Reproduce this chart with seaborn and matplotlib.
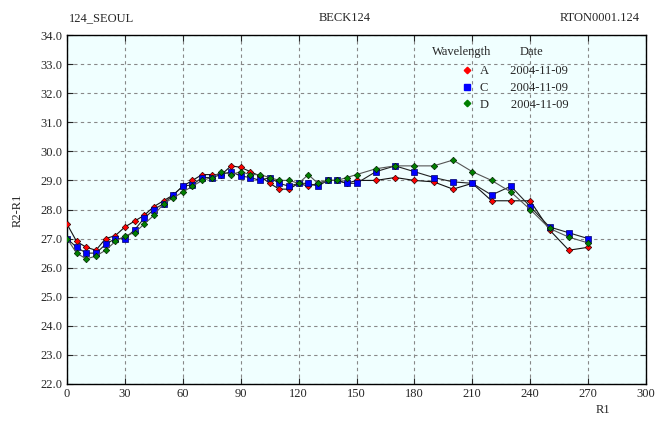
import numpy as np
import pandas as pd
import matplotlib
matplotlib.use("Agg")
import matplotlib.pyplot as plt
import seaborn as sns
from matplotlib.lines import Line2D

r1 = [0, 5, 10, 15, 20, 25, 30, 35, 40, 45, 50, 55, 60, 65, 70, 75, 80, 85, 90, 95,
      100, 105, 110, 115, 120, 125, 130, 135, 140, 145, 150, 160, 170, 180, 190, 200,
      210, 220, 230, 240, 250, 260, 270]

val_a = [27.5, 26.9, 26.7, 26.6, 27.0, 27.1, 27.4, 27.6, 27.8, 28.1, 28.3, 28.5, 28.8,
         29.0, 29.2, 29.2, 29.2, 29.5, 29.45, 29.3, 29.15, 28.9, 28.7, 28.7, 28.9, 28.8,
         28.9, 29.0, 29.0, 28.9, 29.0, 29.0, 29.1, 29.0, 28.95, 28.7, 28.9, 28.3, 28.3,
         28.3, 27.3, 26.6, 26.7]

val_c = [27.0, 26.7, 26.5, 26.5, 26.8, 27.0, 27.0, 27.3, 27.7, 28.0, 28.2, 28.5, 28.8,
         28.85, 29.1, 29.1, 29.2, 29.3, 29.15, 29.1, 29.0, 29.1, 28.9, 28.8, 28.9, 28.9,
         28.8, 29.0, 29.0, 28.9, 28.9, 29.3, 29.5, 29.3, 29.1, 28.95, 28.9, 28.5, 28.8,
         28.1, 27.4, 27.2, 27.0]

val_d = [27.0, 26.5, 26.3, 26.4, 26.6, 26.9, 27.1, 27.2, 27.5, 27.8, 28.2, 28.4, 28.6,
         28.8, 29.0, 29.1, 29.3, 29.2, 29.3, 29.2, 29.2, 29.1, 29.0, 29.0, 28.9, 29.2,
         28.9, 29.0, 29.0, 29.1, 29.2, 29.4, 29.5, 29.5, 29.5, 29.7, 29.3, 29.0, 28.6,
         28.0, 27.35, 27.05, 26.85]

wavelengths = ["A", "C", "D"]
dates = ["2004-11-09", "2004-11-09", "2004-11-09"]
x_ticks = [0, 30, 60, 90, 120, 150, 180, 210, 240, 270, 300]
y_ticks = [22.0, 23.0, 24.0, 25.0, 26.0, 27.0, 28.0, 29.0, 30.0, 31.0, 32.0, 33.0, 34.0]

df = pd.DataFrame({
    "R1": r1 * 3,
    "R2-R1": val_a + val_c + val_d,
    "Wavelength": sum([[w] * len(r1) for w in wavelengths], []),
})

sns.set_style("ticks")
plt.rcParams["font.family"] = ["Liberation Serif", "DejaVu Serif"]
plt.rcParams["font.size"] = 9

fig = plt.figure(figsize=(6.56, 4.26), dpi=100)
ax = fig.add_axes([67 / 656, 42 / 426, 579 / 656, 349 / 426])
ax.set_facecolor("#F0FFFF")

marker_colors = {"A": "#FF0000", "C": "#0000FF", "D": "#008000"}
line_colors = {"A": "#111111", "C": "#222222", "D": "#555555"}
edge_colors = {"A": "#330000", "C": "#000066", "D": "#002200"}
markers = {"A": "D", "C": "s", "D": "D"}
sizes = {"A": 3.3, "C": 4.2, "D": 3.3}

for w in wavelengths:
    sub = df[df["Wavelength"] == w]
    sns.lineplot(data=sub, x="R1", y="R2-R1", ax=ax, color=line_colors[w], lw=0.8,
                 marker=markers[w], markersize=sizes[w], markerfacecolor=marker_colors[w],
                 markeredgecolor=edge_colors[w], markeredgewidth=0.5,
                 legend=False, zorder=3)

ax.set_xlim(0, 300)
ax.set_ylim(22, 34)
ax.set_xticks(x_ticks)
ax.set_yticks(y_ticks)
ax.set_yticklabels([f"{v:.1f}" for v in y_ticks])
ax.grid(True, ls=(0, (3, 3)), color="#888888", lw=0.8)
ax.tick_params(direction="in", top=True, right=True, length=4, width=0.8, labelsize=9, pad=3)
for s in ax.spines.values():
    s.set_linewidth(1.0)
    s.set_color("black")

ax.set_xlabel("")
ax.set_ylabel("")
fig.text(603 / 656, 1 - 410 / 426, "R1", ha="center", va="center", fontsize=9)
fig.text(18 / 656, 1 - 210 / 426, "R2-R1", ha="center", va="center", rotation=90, fontsize=9)

fig.text(102 / 656, 1 - 18 / 426, "124_SEOUL", ha="center", va="center", fontsize=9)
fig.text(345 / 656, 1 - 18 / 426, "BECK124", ha="center", va="center", fontsize=9)
fig.text(640 / 656, 1 - 18 / 426, "RTON0001.124", ha="right", va="center", fontsize=9)

# legend header
fig.text(462 / 656, 1 - 52 / 426, "Wavelength", ha="center", va="center", fontsize=9)
fig.text(531 / 656, 1 - 52 / 426, "Date", ha="center", va="center", fontsize=9)

handles = [Line2D([], [], ls="none", marker=markers[w], color=marker_colors[w],
                  markersize=sizes[w]) for w in wavelengths]
labels = [f"{w}       {d}" for w, d in zip(wavelengths, dates)]
leg = ax.legend(handles, labels, frameon=False,
                loc="upper left", bbox_to_anchor=((454 - 67) / 579, 1 - (59 - 35) / 349),
                fontsize=9, handlelength=1.0, handletextpad=0.6,
                labelspacing=0.38, borderpad=0.0)

fig.savefig("out.png", dpi=100, facecolor="white")
